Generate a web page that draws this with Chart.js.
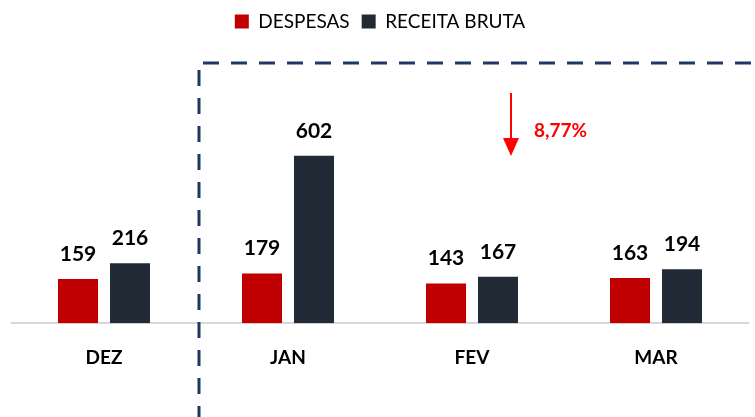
<!DOCTYPE html>
<html>
<head>
<meta charset="utf-8">
<script src="https://cdn.jsdelivr.net/npm/chart.js@4"></script>
<style>
  html, body { margin: 0; padding: 0; background: #fff; }
  #wrap { width: 755px; height: 417px; position: relative; }
</style>
</head>
<body>
<div id="wrap"><canvas id="chart"></canvas></div>
<script>
var categories = ['DEZ', 'JAN', 'FEV', 'MAR'];
var despesas = [159, 179, 143, 163];
var receitaBruta = [216, 602, 167, 194];
var variacao = '8,77%';

(function() {

  var FONT = 'Lato, "Open Sans", sans-serif';
  var RED = '#C00000';
  var NAVY = '#222A35';
  var DASH = '#1F3864';

  // ***************************************************
  // Value labels above each bar
  // ***************************************************

  var valueLabels = {
    id: 'valueLabels',
    afterDatasetsDraw: function(chart) {
      var ctx = chart.ctx;
      ctx.save();
      ctx.font = 'bold 21px ' + FONT;
      ctx.fillStyle = '#000';
      ctx.textAlign = 'center';
      ctx.textBaseline = 'middle';
      chart.data.datasets.forEach(function(ds, i) {
        chart.getDatasetMeta(i).data.forEach(function(bar, j) {
          ctx.fillText(ds.data[j], bar.x, bar.y - 25);
        });
      });
      ctx.restore();
    }
  };

  // ***************************************************
  // Dashed box and the red arrow
  // ***************************************************

  var annotations = {
    id: 'annotations',
    afterDraw: function(chart) {
      var ctx = chart.ctx;
      var x = chart.scales.x;
      var left = (x.getPixelForValue(0) + x.getPixelForValue(1)) / 2 + 3;
      var top = 63;

      ctx.save();
      ctx.strokeStyle = DASH;
      ctx.lineWidth = 3;
      ctx.setLineDash([16, 12]);
      ctx.beginPath();
      ctx.moveTo(left + 4, top);
      ctx.lineTo(chart.width, top);
      ctx.stroke();
      ctx.beginPath();
      ctx.moveTo(left, top + 7);
      ctx.lineTo(left, chart.height);
      ctx.stroke();
      ctx.setLineDash([]);

      // arrow
      var ax = x.getPixelForValue(2) + 39;
      ctx.strokeStyle = '#FF0000';
      ctx.fillStyle = '#FF0000';
      ctx.lineWidth = 2;
      ctx.beginPath();
      ctx.moveTo(ax, 93);
      ctx.lineTo(ax, 140);
      ctx.stroke();
      ctx.beginPath();
      ctx.moveTo(ax - 8, 138);
      ctx.lineTo(ax + 8, 138);
      ctx.lineTo(ax, 156);
      ctx.closePath();
      ctx.fill();

      ctx.font = 'bold 19px ' + FONT;
      ctx.textAlign = 'left';
      ctx.textBaseline = 'middle';
      ctx.fillText(variacao, ax + 23, 131);
      ctx.restore();
    }
  };

  // ***************************************************
  // Chart
  // ***************************************************

  new Chart(document.getElementById('chart'), {
    type: 'bar',
    data: {
      labels: categories,
      datasets: [
        { label: 'DESPESAS', data: despesas, backgroundColor: RED },
        { label: 'RECEITA BRUTA', data: receitaBruta, backgroundColor: NAVY }
      ]
    },
    options: {
      responsive: true,
      maintainAspectRatio: false,
      animation: false,
      categoryPercentage: 0.565,
      barPercentage: 0.77,
      layout: { padding: { left: 12, right: 7, top: 0, bottom: 33 } },
      plugins: {
        legend: {
          position: 'top',
          labels: {
            font: { family: FONT, size: 19 },
            color: '#000',
            boxWidth: 14,
            boxHeight: 14,
            padding: 12
          }
        },
        tooltip: { enabled: false }
      },
      scales: {
        x: {
          grid: { display: false },
          border: { color: '#D9D9D9', width: 2 },
          ticks: {
            font: { family: FONT, size: 19, weight: 'bold' },
            color: '#000',
            padding: 15
          }
        },
        y: {
          display: false,
          min: 0,
          max: 1015
        }
      }
    },
    plugins: [valueLabels, annotations]
  });

})();
</script>
</body>
</html>
